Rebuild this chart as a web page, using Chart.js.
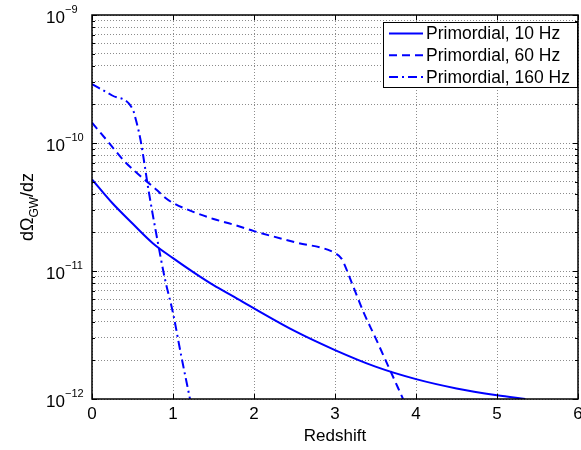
<!DOCTYPE html>
<html>
<head>
<meta charset="UTF-8">
<title>dOmega_GW/dz vs redshift</title>
<script src="https://cdn.jsdelivr.net/npm/chart.js"></script>
<style>
  html, body { margin: 0; padding: 0; background: #fff; }
</style>
</head>
<body>
<canvas id="omegaChart" width="581" height="450"></canvas>
<script>
// values
var z10 = [0, 0.25, 0.5, 0.75, 1.0, 1.25, 1.5, 1.75, 2.0, 2.5, 3.0, 3.5, 4.0, 4.5, 5.0, 5.35];
var omega10 = [5.2e-11, 3.4e-11, 2.35e-11, 1.65e-11, 1.26e-11, 9.8e-12, 7.75e-12, 6.3e-12, 5.1e-12, 3.4e-12, 2.41e-12, 1.79e-12, 1.43e-12, 1.21e-12, 1.07e-12, 1.0e-12];

var z60 = [0, 0.2, 0.4, 0.6, 0.8, 0.9, 1.0, 1.25, 1.5, 1.75, 2.0, 2.5, 3.0, 3.08, 3.2, 3.35, 3.5, 3.65, 3.84];
var omega60 = [1.44e-10, 1.02e-10, 7.2e-11, 5.5e-11, 4.3e-11, 3.75e-11, 3.4e-11, 2.9e-11, 2.55e-11, 2.3e-11, 2.05e-11, 1.68e-11, 1.38e-11, 1.25e-11, 8.3e-12, 4.8e-12, 3.0e-12, 1.85e-12, 1.0e-12];

var z160 = [0, 0.25, 0.5, 0.55, 0.6, 0.7, 0.8, 0.9, 1.0, 1.1, 1.21];
var omega160 = [2.88e-10, 2.35e-10, 1.85e-10, 1.45e-10, 1.05e-10, 4.2e-11, 1.85e-11, 8.7e-12, 4.7e-12, 2.2e-12, 1.0e-12];

var seriesLabels = ['Primordial, 10 Hz', 'Primordial, 60 Hz', 'Primordial, 160 Hz'];
var xTicks = [0, 1, 2, 3, 4, 5, 6];
var yMajor = [1e-12, 1e-11, 1e-10, 1e-9];
var yTickLabels = ['\u221212', '\u221211', '\u221210', '\u22129'];

var FONT = 'Liberation Sans, Arial, Helvetica, sans-serif';

function pts(xs, ys) {
    var out = [];
    for (var i = 0; i < xs.length; i++) out.push({x: xs[i], y: ys[i]});
    return out;
}

// all grid positions on the log axis: 1..9 x 10^n
var yAll = [];
for (var e = -12; e < -9; e++) {
    for (var m = 1; m < 10; m++) yAll.push(parseFloat((m + 'e' + e)));
}
yAll.push(1e-9);

var matlabAxes = {
    id: 'matlabAxes',
    afterDraw: function(chart) {
        var ctx = chart.ctx;
        var a = chart.chartArea;
        var xs = chart.scales.x, ys = chart.scales.y;
        ctx.save();

        // inward tick marks
        ctx.strokeStyle = '#000';
        ctx.lineWidth = 1;
        ctx.beginPath();
        xTicks.forEach(function(v) {
            var px = Math.round(xs.getPixelForValue(v)) + 0.5;
            ctx.moveTo(px, a.bottom); ctx.lineTo(px, a.bottom - 5);
            ctx.moveTo(px, a.top); ctx.lineTo(px, a.top + 5);
        });
        yAll.forEach(function(v) {
            var py = Math.round(ys.getPixelForValue(v)) + 0.5;
            var len = yMajor.indexOf(v) >= 0 ? 5 : 3;
            ctx.moveTo(a.left, py); ctx.lineTo(a.left + len, py);
            ctx.moveTo(a.right, py); ctx.lineTo(a.right - len, py);
        });
        ctx.stroke();

        // box
        ctx.lineWidth = 1.5;
        ctx.strokeRect(a.left, a.top, a.right - a.left, a.bottom - a.top);

        // y tick labels 10^n
        ctx.fillStyle = '#000';
        ctx.textAlign = 'left';
        ctx.textBaseline = 'middle';
        yMajor.forEach(function(v, i) {
            var py = ys.getPixelForValue(v);
            ctx.font = '17px ' + FONT;
            ctx.fillText('10', 46, py + 3);
            ctx.font = '11px ' + FONT;
            ctx.fillText(yTickLabels[i], 65, py - 5);
        });

        // y title d Omega_GW / dz
        ctx.save();
        ctx.translate(33, (a.top + a.bottom) / 2);
        ctx.rotate(-Math.PI / 2);
        ctx.textBaseline = 'alphabetic';
        ctx.font = '18px ' + FONT;
        var w1 = ctx.measureText('d\u03A9').width;
        var w3 = ctx.measureText('/dz').width;
        ctx.font = '12px ' + FONT;
        var w2 = ctx.measureText('GW').width;
        var x0 = -(w1 + w2 + w3) / 2;
        ctx.font = '18px ' + FONT;
        ctx.fillText('d\u03A9', x0, 0);
        ctx.font = '12px ' + FONT;
        ctx.fillText('GW', x0 + w1, 5);
        ctx.font = '18px ' + FONT;
        ctx.fillText('/dz', x0 + w1 + w2, 0);
        ctx.restore();

        // legend box
        ctx.fillStyle = '#fff';
        ctx.fillRect(383, 22, 194, 65);
        ctx.strokeStyle = '#000';
        ctx.lineWidth = 1;
        ctx.strokeRect(383.5, 22.5, 194, 65);
        chart.data.datasets.forEach(function(ds, i) {
            var ly = 33.5 + i * 21.7;
            ctx.strokeStyle = ds.borderColor;
            ctx.lineWidth = 2;
            ctx.setLineDash(ds.borderDash || []);
            ctx.beginPath();
            ctx.moveTo(389, ly); ctx.lineTo(423, ly);
            ctx.stroke();
            ctx.setLineDash([]);
            ctx.fillStyle = '#000';
            ctx.font = '17.5px ' + FONT;
            ctx.textBaseline = 'middle';
            ctx.fillText(ds.label, 426, ly + 1);
        });
        ctx.restore();
    }
};

var lineBase = {
    borderColor: '#0000ff',
    backgroundColor: '#0000ff',
    borderWidth: 2,
    pointRadius: 0,
    fill: false,
    cubicInterpolationMode: 'monotone'
};

var ctx = document.getElementById('omegaChart').getContext('2d');
var omegaChart = new Chart(ctx, {
    type: 'line',
    data: {
        datasets: [
            Object.assign({}, lineBase, {label: seriesLabels[0], data: pts(z10, omega10)}),
            Object.assign({}, lineBase, {label: seriesLabels[1], data: pts(z60, omega60), borderDash: [8, 5]}),
            Object.assign({}, lineBase, {label: seriesLabels[2], data: pts(z160, omega160), borderDash: [9, 4, 2, 4]})
        ]
    },
    options: {
        responsive: false,
        animation: false,
        devicePixelRatio: 1,
        layout: { padding: { top: 15, right: 3, left: 0, bottom: 0 } },
        plugins: {
            legend: { display: false },
            tooltip: { enabled: false }
        },
        scales: {
            x: {
                type: 'linear',
                min: 0,
                max: 6,
                afterBuildTicks: function(s) { s.ticks = xTicks.map(function(v) { return {value: v}; }); },
                ticks: { color: '#000', font: { family: FONT, size: 17 }, padding: 5, maxRotation: 0 },
                grid: { color: '#8c8c8c', drawTicks: false, lineWidth: 1 },
                border: { display: false, dash: [1, 2] },
                title: { display: true, text: 'Redshift', color: '#000', font: { family: FONT, size: 17 }, padding: { top: 0, bottom: 3 } },
                afterFit: function(s) { s.height = 51; s.paddingLeft = 0; s.paddingRight = 0; }
            },
            y: {
                type: 'logarithmic',
                min: 1e-12,
                max: 1e-9,
                afterBuildTicks: function(s) { s.ticks = yAll.map(function(v) { return {value: v}; }); },
                ticks: { display: false },
                grid: { color: '#8c8c8c', drawTicks: false, lineWidth: 1 },
                border: { display: false, dash: [1, 2] },
                afterFit: function(s) { s.width = 92; s.paddingTop = 0; s.paddingBottom = 0; }
            }
        }
    },
    plugins: [matlabAxes]
});
</script>
</body>
</html>
